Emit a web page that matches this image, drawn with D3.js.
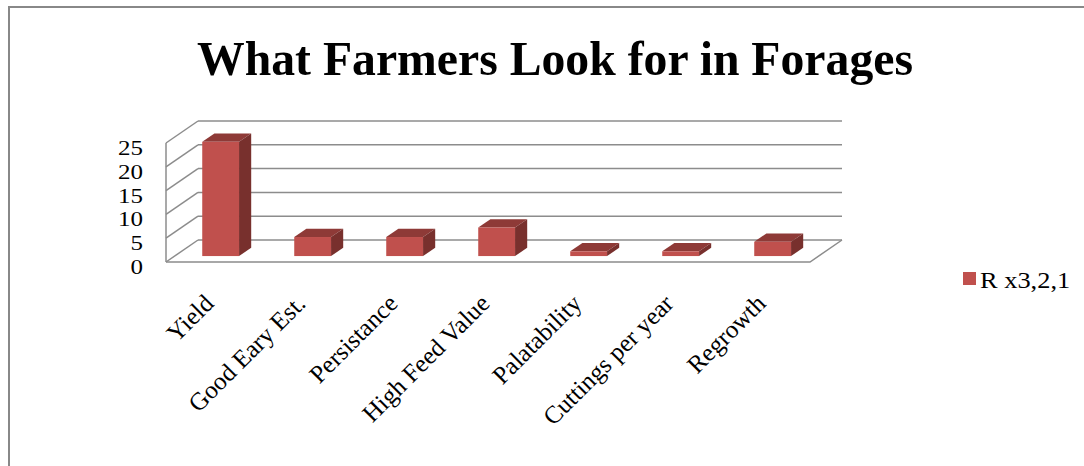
<!DOCTYPE html>
<html>
<head>
<meta charset="utf-8">
<script src="https://cdn.jsdelivr.net/npm/d3@7"></script>
<style>
    body { margin: 0; background: #fff; }
    svg { display: block; }
    text { font-family: "Liberation Serif", "Times New Roman", serif; fill: #000; }
</style>
</head>
<body>
<svg id="chartsvg" width="1084" height="466"></svg>
<script>
var categories = ['Yield', 'Good Eary Est.', 'Persistance', 'High Feed Value', 'Palatability', 'Cuttings per year', 'Regrowth']
var values = [24, 4, 4, 6, 1, 1, 3]
var seriesName = 'R x3,2,1'
var yTicks = [0, 5, 10, 15, 20, 25]

function drawChart()
{
    var svg = d3.select('#chartsvg')

    // outer frame (only top and left edges are visible)
    svg.append('path')
        .attr('d', 'M9,466 L9,7 L1084,7')
        .attr('fill', 'none')
        .attr('stroke', '#888888')
        .attr('stroke-width', 2)

    svg.append('text')
        .attr('x', 555)
        .attr('y', 75)
        .attr('text-anchor', 'middle')
        .attr('font-size', '49px')
        .attr('font-weight', 'bold')
        .attr('textLength', 716)
        .attr('lengthAdjust', 'spacingAndGlyphs')
        .text('What Farmers Look for in Forages')

    var x = d3.scaleBand()
        .domain(categories)
        .range([166, 810])

    var y = d3.scaleLinear()
        .domain([0, 25])
        .range([262, 143])

    // depth offset of the 3d walls
    var ddx = 32, ddy = -22
    var gridColor = '#8c8c8c'

    var grid = svg.append('g')
        .attr('fill', 'none')
        .attr('stroke', gridColor)
        .attr('stroke-width', 1.5)

    // back wall lines
    grid.selectAll('.hline')
        .data(yTicks)
        .enter()
        .append('line')
        .attr('x1', x.range()[0] + ddx)
        .attr('x2', x.range()[1] + ddx)
        .attr('y1', function(d) { return y(d) + ddy })
        .attr('y2', function(d) { return y(d) + ddy })

    // side wall diagonals
    grid.selectAll('.dline')
        .data(yTicks)
        .enter()
        .append('line')
        .attr('x1', x.range()[0])
        .attr('x2', x.range()[0] + ddx)
        .attr('y1', function(d) { return y(d) })
        .attr('y2', function(d) { return y(d) + ddy })

    // side wall front edge
    grid.append('line')
        .attr('x1', x.range()[0]).attr('x2', x.range()[0])
        .attr('y1', y(25)).attr('y2', y(0))

    // floor
    grid.append('path')
        .attr('d', 'M' + x.range()[0] + ',' + y(0) +
                   'L' + x.range()[1] + ',' + y(0) +
                   'L' + (x.range()[1] + ddx) + ',' + (y(0) + ddy))

    // y labels (glyphs are a bit wide in the reference)
    svg.selectAll('.ylabel')
        .data(yTicks)
        .enter()
        .append('text')
        .attr('class', 'ylabel')
        .attr('transform', function(d) { return 'translate(143,' + (y(d) + 12) + ') scale(1.25,1)' })
        .attr('text-anchor', 'end')
        .attr('font-size', '20px')
        .text(function(d) { return d })

    // bars, sitting in the middle of the depth
    var f0 = 0.27, f1 = 0.65
    var bw = x.bandwidth() * 0.4
    var bars = svg.selectAll('.bar')
        .data(values)
        .enter()
        .append('g')
        .attr('class', 'bar')

    function corner(i, v, f) {
        var cx = x(categories[i]) + x.bandwidth() / 2 + ddx * f
        return [cx, y(v) + ddy * f]
    }

    bars.append('path')   // top
        .attr('fill', '#8e3a37')
        .attr('d', function(d, i) {
            var a = corner(i, d, f0), b = corner(i, d, f1)
            return 'M' + (a[0] - bw / 2) + ',' + a[1] + 'L' + (a[0] + bw / 2) + ',' + a[1] +
                   'L' + (b[0] + bw / 2) + ',' + b[1] + 'L' + (b[0] - bw / 2) + ',' + b[1] + 'Z'
        })
    bars.append('path')   // side
        .attr('fill', '#78302d')
        .attr('d', function(d, i) {
            var a = corner(i, d, f0), b = corner(i, d, f1)
            var a0 = corner(i, 0, f0), b0 = corner(i, 0, f1)
            return 'M' + (a[0] + bw / 2) + ',' + a[1] + 'L' + (b[0] + bw / 2) + ',' + b[1] +
                   'L' + (b0[0] + bw / 2) + ',' + b0[1] + 'L' + (a0[0] + bw / 2) + ',' + a0[1] + 'Z'
        })
    bars.append('rect')   // front
        .attr('fill', '#c0504d')
        .attr('x', function(d, i) { return corner(i, d, f0)[0] - bw / 2 })
        .attr('y', function(d, i) { return corner(i, d, f0)[1] })
        .attr('width', bw)
        .attr('height', function(d) { return y(0) - y(d) })

    // category labels
    svg.selectAll('.xlabel')
        .data(categories)
        .enter()
        .append('text')
        .attr('class', 'xlabel')
        .attr('text-anchor', 'end')
        .attr('font-size', '25px')
        .attr('transform', function(d) {
            return 'translate(' + (x(d) + x.bandwidth() / 2 + 3) + ',305) rotate(-45)'
        })
        .text(function(d) { return d })

    // legend
    svg.append('rect')
        .attr('x', 963).attr('y', 272)
        .attr('width', 13).attr('height', 13)
        .attr('fill', '#c0504d')
    svg.append('text')
        .attr('transform', 'translate(980,288) scale(1.1,1)')
        .attr('font-size', '24px')
        .text(seriesName)
}
drawChart()
</script>
</body>
</html>
